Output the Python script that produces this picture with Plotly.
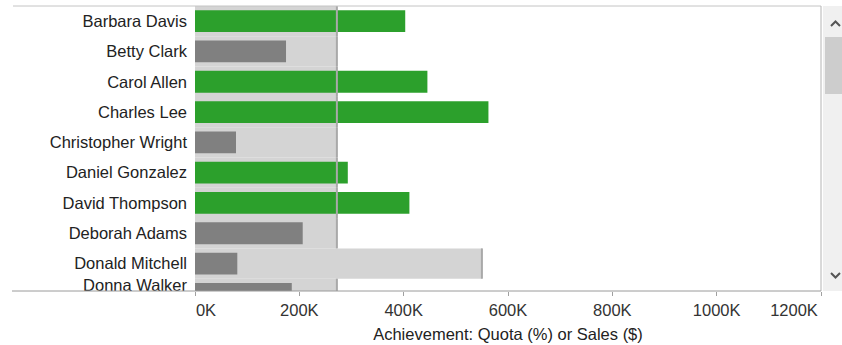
import plotly.graph_objects as go

# ---------------- data ----------------
names = ["Barbara Davis", "Betty Clark", "Carol Allen", "Charles Lee", "Christopher Wright",
         "Daniel Gonzalez", "David Thompson", "Deborah Adams", "Donald Mitchell", "Donna Walker"]
sales = [403000, 174500, 445500, 562500, 78600, 292900, 411000, 206500, 81100, 185500]
quota = [272000, 272000, 272000, 272000, 272000, 272000, 272000, 272000, 550000, 272000]
tick_values = [0, 200000, 400000, 600000, 800000, 1000000, 1200000]
tick_labels = ["0K", "200K", "400K", "600K", "800K", "1000K", "1200K"]
axis_title = "Achievement: Quota (%) or Sales ($)"

# ---------------- styles / layout ----------------
GREEN = "#2ca02c"
DARK = "#808080"
LIGHT = "#d4d4d4"
REF = "#a9a9a9"
FONT = "Liberation Sans, Arial, sans-serif"

W, H = 842, 345
ML, MR, MT, MB = 195, 21, 6, 54
PW, PH = W - ML - MR, H - MT - MB
ROW_PX = 30.3
y_top = -0.5
y_bottom = y_top + PH / ROW_PX
X_MAX = 1200000

rows = list(range(len(names)))
bar_colors = [GREEN if s >= q else DARK for s, q in zip(sales, quota)]

# labels centred on the visible part of each row (like the scrolled view)
label_pos = []
for i in rows:
    lo = max(i - 0.5, y_top)
    hi = min(i + 0.5, y_bottom)
    label_pos.append((lo + hi) / 2)

# end tick labels are nudged inward so they stay inside the view (Tableau style)
label_shift_px = [11] + [0] * (len(tick_values) - 2) + [-27]
label_vals = [v + s * X_MAX / PW for v, s in zip(tick_values, label_shift_px)]

ref_x, ref_y = [], []
for i, q in zip(rows, quota):
    ref_x += [q, q, None]
    ref_y += [i - 0.5, i + 0.5, None]

fig = go.Figure()
fig.add_trace(go.Bar(x=quota, y=rows, orientation="h", width=1.0,
                     marker=dict(color=LIGHT, line=dict(width=0)), hoverinfo="skip"))
fig.add_trace(go.Bar(x=sales, y=rows, orientation="h", width=0.72,
                     marker=dict(color=bar_colors, line=dict(width=0))))
# quota reference lines (drawn on the overlaying axis, which has the same range)
fig.add_trace(go.Scatter(x=ref_x, y=ref_y, mode="lines", xaxis="x2", yaxis="y",
                         line=dict(color=REF, width=2), hoverinfo="skip"))


def px(xp):
    return (xp - ML) / PW


def py(yp):
    return 1 - (yp - MT) / PH


shapes = [
    # scrollbar track and thumb
    dict(type="rect", xref="paper", yref="paper", x0=px(823), x1=px(842), y0=py(291), y1=py(6),
         fillcolor="#f0f0f0", line=dict(width=0), layer="above"),
    dict(type="rect", xref="paper", yref="paper", x0=px(825), x1=px(842), y0=py(94), y1=py(37),
         fillcolor="#cdcdcd", line=dict(width=0), layer="above"),
    dict(type="path", xref="paper", yref="paper",
         path=f"M {px(831)},{py(26)} L {px(835.5)},{py(21.5)} L {px(840)},{py(26)}",
         line=dict(color="#555555", width=2), layer="above"),
    dict(type="path", xref="paper", yref="paper",
         path=f"M {px(831)},{py(273)} L {px(835.5)},{py(277.5)} L {px(840)},{py(273)}",
         line=dict(color="#555555", width=2), layer="above"),
    # frame
    dict(type="line", xref="paper", yref="paper", x0=px(13), x1=1, y0=1, y1=1,
         line=dict(color="#c4c4c4", width=1), layer="above"),
    dict(type="line", xref="paper", yref="paper", x0=1, x1=1, y0=0, y1=1,
         line=dict(color="#b4b4b4", width=1), layer="above"),
    dict(type="line", xref="paper", yref="paper", x0=px(12), x1=1, y0=0, y1=0,
         line=dict(color="#9a9a9a", width=1), layer="above"),
]

common_x = dict(range=[0, X_MAX], tickmode="array", tickangle=0, ticks="outside", ticklen=4,
                tickwidth=1, showgrid=False, zeroline=False, showline=False, automargin=False,
                ticklabeloverflow="allow")

fig.update_layout(
    width=W, height=H, autosize=False,
    margin=dict(l=ML, r=MR, t=MT, b=MB, pad=0),
    template="none",
    paper_bgcolor="white", plot_bgcolor="white",
    barmode="overlay", showlegend=False,
    font=dict(family=FONT, size=16.5, color="#222222"),
    shapes=shapes,
    # tick marks
    xaxis=dict(**common_x, tickvals=tick_values, showticklabels=False, tickcolor="#a0a0a0"),
    # tick labels + title
    xaxis2=dict(**common_x, tickvals=label_vals, ticktext=tick_labels, overlaying="x",
                anchor="y", side="bottom", tickcolor="rgba(0,0,0,0)",
                tickfont=dict(family=FONT, size=16.5, color="#333333"),
                title=dict(text=axis_title, standoff=10,
                           font=dict(family=FONT, size=16.5, color="#222222"))),
    yaxis=dict(range=[y_bottom, y_top], tickmode="array", tickvals=label_pos, ticktext=names,
               ticks="", showgrid=False, zeroline=False, showline=False, automargin=False,
               ticklabelstandoff=7,
               tickfont=dict(family=FONT, size=16.5, color="#222222")),
)

fig.write_html("out.html")
